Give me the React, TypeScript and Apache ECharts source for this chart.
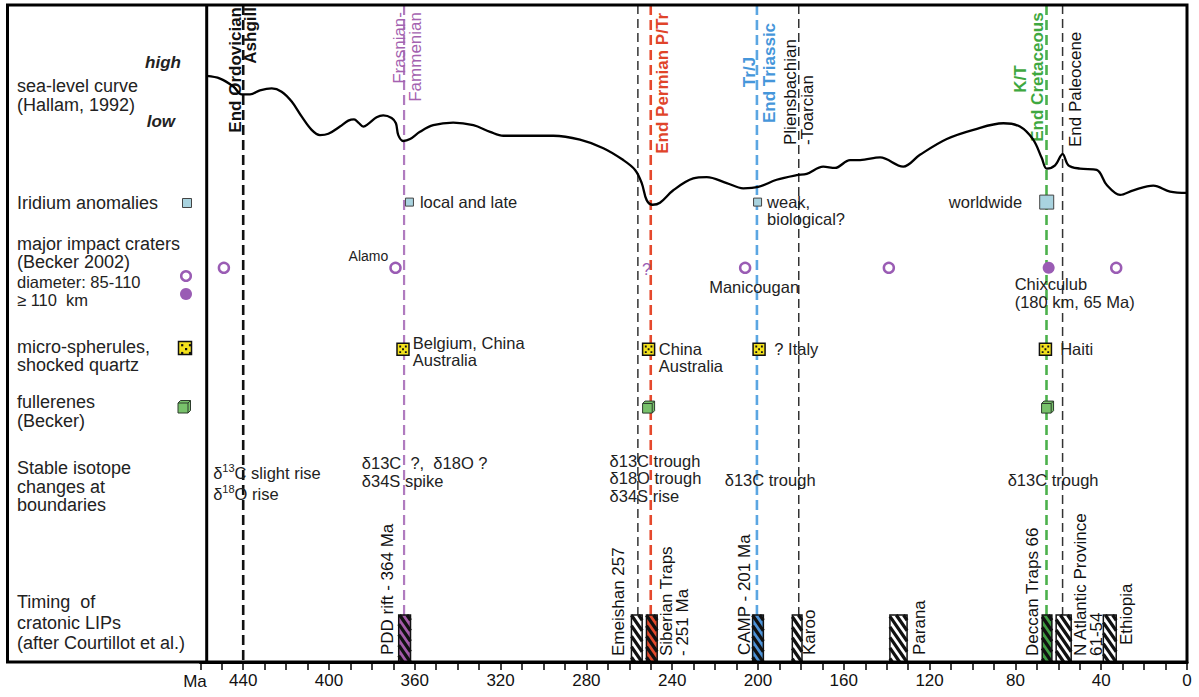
import React, { useEffect, useRef } from "react";
import * as echarts from "echarts";

const FONT = '"Liberation Sans", Arial, Helvetica, sans-serif';

// ---------- time axis (Ma) ----------
const AGE_MIN = 0;
const AGE_MAX = 460;
const AGE_TICK = 10;
const AGE_LABEL_STEP = 40;

// ---------- sea-level curve (Hallam, 1992), relative level ----------
const seaLevelAge = [457, 450.8, 444.6, 440.7, 436.8, 432.2, 426.7, 422.1, 417.4, 412.7, 408.1, 404.2, 400.3, 394.9, 391.0, 388.3, 386.3, 384.0, 381.7, 377.8, 374.7, 370.8, 368.8, 367.7, 365.4, 362.2, 357.6, 351.4, 342.1, 332.7, 324.9, 318.7, 306.3, 295.4, 283.0, 272.1, 262.8, 257.3, 254.2, 251.9, 249.1, 245.7, 239.5, 230.2, 223.9, 214.6, 206.9, 199.9, 191.3, 182.0, 177.3, 169.6, 164.1, 157.1, 152.4, 143.1, 132.3, 124.5, 112.0, 99.6, 85.6, 77.9, 71.7, 67.7, 65.4, 61.5, 58.0, 55.3, 49.9, 42.1, 37.4, 31.2, 25.0, 15.7, 7.9, 0];
const seaLevel = [89.2, 88.8, 87.6, 86.4, 86.4, 87.0, 87.3, 86.8, 85.3, 83.0, 81.0, 80.2, 80.4, 81.5, 82.4, 82.6, 82.1, 81.5, 81.9, 82.9, 83.2, 82.8, 82.0, 80.2, 79.3, 79.6, 80.7, 81.7, 82.1, 81.7, 80.7, 80.1, 80.1, 80.1, 79.5, 78.2, 76.4, 74.9, 72.9, 70.3, 69.6, 69.9, 71.8, 73.6, 73.8, 72.9, 72.1, 72.3, 73.4, 74.1, 74.3, 75.4, 75.2, 76.4, 76.4, 76.8, 75.4, 77.2, 79.6, 81.0, 82.0, 81.5, 79.5, 76.7, 75.1, 75.6, 77.3, 75.6, 75.1, 74.9, 72.6, 71.1, 71.8, 72.5, 71.6, 71.4];

// ---------- boundaries ----------
const eventAges = [440, 365, 256, 250, 200.5, 181, 65.5, 58];
const eventLabels = [
  ["End Ordovician", "Ashgill"],
  ["Frasnian-", "Fammenian"],
  [],
  ["End Permian P/Tr"],
  ["Tr/J", "End Triassic"],
  ["Pliensbachian", "-Toarcian"],
  ["K/T", "End Cretaceous"],
  ["End Paleocene"],
];

// ---------- iridium anomalies ----------
const iridiumAges = [362.5, 200.2, 65.4];
const iridiumNotes = ["local and late", "weak,\nbiological?", "worldwide"];
const iridiumWorldwide = [false, false, true];

// ---------- impact craters ----------
const craterAges = [449, 369, 206, 139, 64.5, 33];
const craterLarge = [false, false, false, false, true, false];
const craterNames = ["", "Alamo", "Manicougan", "", "Chixculub\n(180 km, 65 Ma)", ""];
const uncertainCraterAges = [252];

// ---------- micro-spherules / shocked quartz ----------
const sphereAges = [365.5, 251, 199.5, 66];
const sphereNotes = ["Belgium, China\nAustralia", "China\nAustralia", "? Italy", "Haiti"];

// ---------- fullerenes ----------
const fullereneAges = [251, 65];

// ---------- stable isotopes ----------
const isotopeAges = [454, 384.7, 269.2, 215.5, 83.6];
const isotopeNotes = [
  "{d|δ}{s|13}{d|C slight rise}\n{d|δ}{s|18}{d|O rise}",
  "δ13C  ?,  δ18O ?\nδ34S spike",
  "δ13C trough\nδ18O trough\nδ34S rise",
  "δ13C trough",
  "δ13C trough",
];

// ---------- large igneous provinces ----------
const lipNames = [
  "PDD rift - 364 Ma",
  "Emeishan 257",
  "Siberian Traps\n- 251 Ma",
  "CAMP - 201 Ma",
  "Karoo",
  "Parana",
  "Deccan Traps 66",
  "N Atlantic Province\n61-54",
  "Ethiopia",
];
const lipStart = [367.5, 259, 252, 202.5, 184, 138.5, 67.5, 61, 39];
const lipEnd = [362, 254, 247, 197.5, 179.5, 130.5, 63, 54, 33];

// ---------- layout / styles ----------
const ROW = { iridium: 70, crater: 60, sphere: 47.6, fullerene: 38.8 };
const LIP_TOP = 7.15;
const isotopeRow = [30.37, 31.66, 31.96, 29.07, 29.07];
const isotopeLineHeight = [21, 18, 17.5, 18, 18];

const PURPLE = "#9a5cb4";
const IRID_FILL = "#a9d3df";
const YELLOW = "#f4e21c";
const CUBE_GREEN = "#78c26b";
const TXT = "#222";

const eventStyles = [
  { color: "#111", width: 2.6, dash: [10, 5], text: "#111", bold: true, labels: [{ dx: -7.4, y: 7, anchor: "top" }, { dx: 7.6, y: 7, anchor: "top" }] },
  { color: "#b07bbf", width: 2.2, dash: [10, 5], text: "#a462b0", bold: false, labels: [{ dx: -5, y: 12, anchor: "top" }, { dx: 11.7, y: 12, anchor: "top" }] },
  { color: "#333", width: 1.5, dash: [9, 5], text: "#111", bold: false, labels: [] },
  { color: "#e5492d", width: 2.6, dash: [10, 5], text: "#e0442a", bold: true, labels: [{ dx: 11.6, y: 13, anchor: "top" }] },
  { color: "#5ba6e2", width: 2.6, dash: [10, 5], text: "#4596da", bold: true, labels: [{ dx: -7.9, y: 72, anchor: "center" }, { dx: 12.1, y: 73, anchor: "center" }] },
  { color: "#333", width: 1.5, dash: [9, 5], text: "#111", bold: false, labels: [{ dx: -8, y: 145, anchor: "bottom" }, { dx: 8.6, y: 145, anchor: "bottom" }] },
  { color: "#4cb14c", width: 2.6, dash: [10, 5], text: "#3fa83f", bold: true, labels: [{ dx: -25.8, y: 79, anchor: "center" }, { dx: -9.2, y: 77, anchor: "center" }] },
  { color: "#333", width: 1.5, dash: [9, 5], text: "#111", bold: false, labels: [{ dx: 13.2, y: 147, anchor: "bottom" }] },
];

const lipFill = ["#a35ba8", "#ffffff", "#e34a2c", "#4d93d8", "#ffffff", "#ffffff", "#3f9e43", "#ffffff", "#ffffff"];
const lipLabelDx = [-17.1, -18.1, 22.2, -13.9, 11.9, 20.6, -14.6, 24.4, 17];
const lipLabelLift = [7, 6, 6, 7, 7, 7, 6, 6, 17];

const iridiumLabelLayout = [
  { position: "right", distance: 6 },
  { position: "right", distance: 5, offset: [0, 8.5] },
  { position: "left", distance: 17 },
];
const craterLabelLayout = [
  {},
  { position: "left", distance: 1, offset: [0, -12], fontSize: 14 },
  { position: "bottom", distance: 4, offset: [9, 0] },
  {},
  { position: "bottom", distance: 1, offset: [-34, 0], align: "left" },
  {},
];
const sphereLabelLayout = [
  { position: "right", distance: 3, offset: [0, 2] },
  { position: "right", distance: 3.5, offset: [0, 8.5] },
  { position: "right", distance: 8.5 },
  { position: "right", distance: 8 },
];

const CUBE_PATH = "path://M2 0L10 0L10 8L8 10L0 10L0 2Z M0 2L8 2L8 10 M8 2L10 0";
const DOTS_PATH = "path://M0 0h2v2h-2z M6 0h2v2h-2z M3 3h2v2h-2z M0 6h2v2h-2z M6 6h2v2h-2z";

function txt(text: string, x: number, y: number, o: any = {}) {
  const align = o.align || "left";
  return {
    type: "text",
    x,
    y,
    z: 50,
    style: {
      text,
      fill: o.fill || TXT,
      fontSize: o.size || 18,
      fontFamily: FONT,
      fontWeight: o.weight || "normal",
      fontStyle: o.italic ? "italic" : "normal",
      align,
      textAlign: align,
      verticalAlign: "middle",
      textVerticalAlign: "middle",
    },
  };
}

function buildGraphic() {
  const g: any[] = [];
  // frame
  g.push({ type: "rect", z: 100, shape: { x: 7.5, y: 5, width: 1179.5, height: 657 }, style: { fill: "none", stroke: "#000", lineWidth: 3 } });
  g.push({ type: "line", z: 100, shape: { x1: 206.7, y1: 5, x2: 206.7, y2: 662 }, style: { stroke: "#000", lineWidth: 3 } });
  // left column labels
  g.push(txt("high", 181, 62, { align: "right", weight: "bold", italic: true, size: 17 }));
  g.push(txt("sea-level curve", 17, 86));
  g.push(txt("(Hallam, 1992)", 17, 105));
  g.push(txt("low", 175, 121, { align: "right", weight: "bold", italic: true, size: 17 }));
  g.push(txt("Iridium anomalies", 17, 203));
  g.push(txt("major impact craters", 17, 243.5));
  g.push(txt("(Becker 2002)", 17, 262));
  g.push(txt("diameter: 85-110", 17, 282, { size: 16.5 }));
  g.push(txt("≥ 110  km", 17, 299.5, { size: 16.5 }));
  g.push(txt("micro-spherules,", 17, 346.5));
  g.push(txt("shocked quartz", 17, 365));
  g.push(txt("fullerenes", 17, 402));
  g.push(txt("(Becker)", 17, 420.5));
  g.push(txt("Stable isotope", 17, 468));
  g.push(txt("changes at", 17, 486.5));
  g.push(txt("boundaries", 17, 505));
  g.push(txt("Timing  of", 17, 602));
  g.push(txt("cratonic LIPs", 17, 623));
  g.push(txt("(after Courtillot et al.)", 17, 643, { size: 18 }));
  g.push(txt("Ma", 195, 681.5, { align: "center", size: 17, fill: "#111" }));
  // legend icons
  g.push({ type: "rect", z: 50, shape: { x: 182.5, y: 198.5, width: 9, height: 9 }, style: { fill: IRID_FILL, stroke: "#444", lineWidth: 1 } });
  g.push({ type: "circle", z: 50, shape: { cx: 186, cy: 276, r: 4.8 }, style: { fill: "#fff", stroke: PURPLE, lineWidth: 2.5 } });
  g.push({ type: "circle", z: 50, shape: { cx: 186, cy: 294, r: 6 }, style: { fill: PURPLE } });
  const mx = 178.5, my = 341.5, u = 1.3;
  g.push({ type: "rect", z: 50, shape: { x: mx, y: my, width: 13, height: 13 }, style: { fill: YELLOW, stroke: "#111", lineWidth: 1.5 } });
  [[1, 1], [7, 1], [4, 4], [1, 7], [7, 7]].forEach(([a, b]) =>
    g.push({ type: "rect", z: 51, shape: { x: mx + 1.3 + a * u, y: my + 1.3 + b * u, width: 2.2, height: 2.2 }, style: { fill: "#111" } })
  );
  const cx = 178, cy = 400.5, s = 1.25;
  const P = (pts: number[][]) => pts.map(([a, b]) => [cx + a * s, cy + b * s]);
  g.push({ type: "polygon", z: 50, shape: { points: P([[2, 0], [10, 0], [10, 8], [8, 10], [0, 10], [0, 2]]) }, style: { fill: CUBE_GREEN, stroke: "#2d3d2d", lineWidth: 1 } });
  g.push({ type: "polyline", z: 51, shape: { points: P([[0, 2], [8, 2], [8, 10]]) }, style: { fill: "none", stroke: "#2d3d2d", lineWidth: 1 } });
  g.push({ type: "polyline", z: 51, shape: { points: P([[8, 2], [10, 0]]) }, style: { fill: "none", stroke: "#2d3d2d", lineWidth: 1 } });
  return g;
}

function rotText(text: string, x: number, y: number, align: string, o: any = {}) {
  return {
    type: "text",
    x,
    y,
    rotation: Math.PI / 2,
    style: {
      text,
      fill: o.fill || "#111",
      fontSize: o.size || 17,
      fontFamily: FONT,
      fontWeight: o.bold ? "bold" : "normal",
      align,
      textAlign: align,
      verticalAlign: "middle",
      textVerticalAlign: "middle",
      lineHeight: o.lineHeight || 16,
    },
  };
}

function buildOption(): any {
  const labelBase = { show: true, color: TXT, fontSize: 16.5, fontFamily: FONT, lineHeight: 17 };

  const eventSeries = {
    type: "custom",
    z: 1,
    silent: true,
    data: eventAges.map((a, i) => [a, i]),
    renderItem: (params: any, api: any) => {
      const age = api.value(0);
      const i = api.value(1);
      const top = api.coord([age, 100]);
      const bot = api.coord([age, 0]);
      const st = eventStyles[i];
      const children: any[] = [
        { type: "line", shape: { x1: top[0], y1: top[1], x2: bot[0], y2: bot[1] }, style: { stroke: st.color, lineWidth: st.width, lineDash: st.dash } },
      ];
      eventLabels[i].forEach((t, j) => {
        const L = st.labels[j];
        const align = L.anchor === "top" ? "right" : L.anchor === "bottom" ? "left" : "center";
        children.push(rotText(t, top[0] + L.dx, L.y, align, { fill: st.text, bold: st.bold }));
      });
      return { type: "group", children };
    },
  };

  const lipSeries = {
    type: "custom",
    z: 5,
    silent: true,
    data: lipStart.map((s, i) => [s, lipEnd[i], i]),
    renderItem: (params: any, api: any) => {
      const i = api.value(2);
      const pA = api.coord([api.value(0), 0]);
      const pB = api.coord([api.value(1), LIP_TOP]);
      const x0 = pA[0], x1 = pB[0], y0 = pB[1], y1 = pA[1];
      const children: any[] = [{ type: "rect", shape: { x: x0, y: y0, width: x1 - x0, height: y1 - y0 }, style: { fill: lipFill[i] } }];
      const k = 1.45, step = 10.5;
      for (let c = y0 - k * x1 + step / 2; c < y1 - k * x0; c += step) {
        const xa = Math.max(x0, (y0 - c) / k);
        const xb = Math.min(x1, (y1 - c) / k);
        if (xb > xa) {
          children.push({ type: "line", shape: { x1: xa, y1: k * xa + c, x2: xb, y2: k * xb + c }, style: { stroke: "#111", lineWidth: 3.2 } });
        }
      }
      children.push({ type: "rect", shape: { x: x0, y: y0, width: x1 - x0, height: y1 - y0 }, style: { fill: "none", stroke: "#111", lineWidth: 1.5 } });
      const xc = (x0 + x1) / 2;
      children.push(rotText(lipNames[i], xc + lipLabelDx[i], y1 - lipLabelLift[i], "left", { lineHeight: 16 }));
      return { type: "group", children };
    },
  };

  const noteSeries = {
    type: "custom",
    z: 6,
    silent: true,
    data: isotopeAges.map((a, i) => [a, isotopeRow[i], i]),
    renderItem: (params: any, api: any) => {
      const i = api.value(2);
      const p = api.coord([api.value(0), api.value(1)]);
      return {
        type: "text",
        x: p[0],
        y: p[1],
        style: {
          text: isotopeNotes[i],
          fill: TXT,
          fontSize: 16.5,
          fontFamily: FONT,
          align: "left",
          textAlign: "left",
          verticalAlign: "top",
          textVerticalAlign: "top",
          lineHeight: isotopeLineHeight[i],
          rich: {
            d: { fontSize: 16.5, fontFamily: FONT, fill: TXT, lineHeight: 21 },
            s: { fontSize: 11, fontFamily: FONT, fill: TXT, verticalAlign: "top" },
          },
        },
      };
    },
  };

  const questionSeries = {
    type: "custom",
    z: 20,
    silent: true,
    data: uncertainCraterAges.map((a) => [a, ROW.crater]),
    renderItem: (params: any, api: any) => {
      const p = api.coord([api.value(0), api.value(1)]);
      return {
        type: "text",
        z2: 100,
        x: p[0],
        y: p[1] + 2,
        style: {
          text: "?",
          fill: PURPLE,
          fontSize: 16,
          fontFamily: FONT,
          align: "center",
          textAlign: "center",
          verticalAlign: "middle",
          textVerticalAlign: "middle",
        },
      };
    },
  };

  return {
    animation: false,
    backgroundColor: "#ffffff",
    grid: { left: 200.3, right: 12, top: 5, bottom: 35, containLabel: false },
    xAxis: {
      type: "value",
      inverse: true,
      min: AGE_MIN,
      max: AGE_MAX,
      interval: AGE_TICK,
      axisLine: { show: true, lineStyle: { color: "#000", width: 3 } },
      axisTick: { show: true, length: 8, lineStyle: { color: "#000", width: 1.5 } },
      axisLabel: {
        formatter: (v: number) => (v % AGE_LABEL_STEP === 0 ? String(v) : ""),
        fontSize: 17,
        color: "#111",
        fontFamily: FONT,
        margin: 10,
        showMinLabel: true,
        showMaxLabel: true,
      },
      splitLine: { show: false },
    },
    yAxis: { type: "value", min: 0, max: 100, show: false },
    graphic: buildGraphic(),
    series: [
      eventSeries,
      {
        type: "line",
        z: 3,
        silent: true,
        showSymbol: false,
        smooth: 0.35,
        data: seaLevelAge.map((a, i) => [a, seaLevel[i]]),
        lineStyle: { color: "#000", width: 2.3 },
      },
      lipSeries,
      {
        type: "scatter",
        z: 7,
        silent: true,
        symbol: "rect",
        itemStyle: { color: IRID_FILL, borderColor: "#444", borderWidth: 1, opacity: 1 },
        data: iridiumAges.map((a, i) => ({
          value: [a, ROW.iridium],
          symbolSize: iridiumWorldwide[i] ? 14 : 8,
          label: { ...labelBase, formatter: iridiumNotes[i], ...iridiumLabelLayout[i] },
        })),
      },
      {
        type: "scatter",
        z: 7,
        silent: true,
        symbol: "circle",
        data: craterAges.map((a, i) => ({
          value: [a, ROW.crater],
          symbolSize: craterLarge[i] ? 12 : 10,
          itemStyle: craterLarge[i]
            ? { color: PURPLE, borderWidth: 0, opacity: 1 }
            : { color: "#ffffff", borderColor: PURPLE, borderWidth: 2.5, opacity: 1 },
          label: craterNames[i]
            ? { ...labelBase, lineHeight: 18, formatter: craterNames[i], ...craterLabelLayout[i] }
            : { show: false },
        })),
      },
      {
        type: "scatter",
        z: 7,
        silent: true,
        symbol: "rect",
        symbolSize: 12,
        itemStyle: { color: YELLOW, borderColor: "#111", borderWidth: 1.5, opacity: 1 },
        data: sphereAges.map((a, i) => ({
          value: [a, ROW.sphere],
          label: { ...labelBase, formatter: sphereNotes[i], ...sphereLabelLayout[i] },
        })),
      },
      {
        type: "scatter",
        z: 8,
        silent: true,
        symbol: DOTS_PATH,
        symbolSize: 7.5,
        itemStyle: { color: "#111", opacity: 1 },
        data: sphereAges.map((a) => [a, ROW.sphere]),
      },
      {
        type: "scatter",
        z: 7,
        silent: true,
        symbol: CUBE_PATH,
        symbolSize: 12,
        itemStyle: { color: CUBE_GREEN, borderColor: "#2d3d2d", borderWidth: 1, opacity: 1 },
        data: fullereneAges.map((a) => [a, ROW.fullerene]),
      },
      noteSeries,
      questionSeries,
    ],
  };
}

export default function App() {
  const ref = useRef<HTMLDivElement>(null);
  useEffect(() => {
    if (!ref.current) return;
    const chart = echarts.init(ref.current, undefined, { renderer: "svg" });
    chart.setOption(buildOption());
    return () => chart.dispose();
  }, []);
  return (
    <div
      ref={ref}
      style={{ position: "fixed", left: 0, top: 0, width: 1199, height: 697, background: "#fff" }}
    />
  );
}
